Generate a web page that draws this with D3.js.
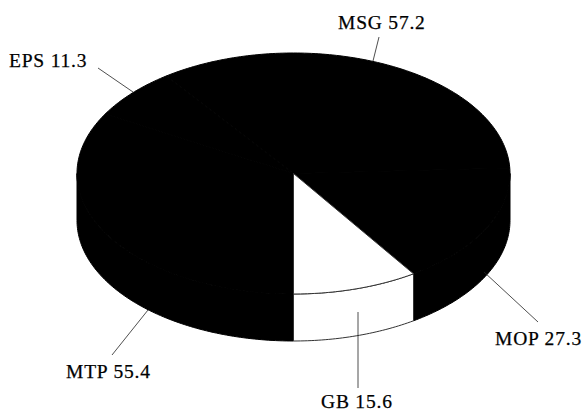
<!DOCTYPE html>
<html>
<head>
<meta charset="utf-8">
<script src="https://cdn.jsdelivr.net/npm/d3@7"></script>
<style>
html,body{margin:0;padding:0;background:#fff}
svg{display:block}
text{font-family:"Liberation Serif",serif;font-size:19.5px;letter-spacing:0.8px;fill:#000;stroke:#000;stroke-width:0.25px}
</style>
</head>
<body>
<svg id="chart" width="583" height="411"></svg>
<script>
// Shares per segment, clockwise from the bottom of the disc
const categories = ["MTP", "EPS", "MSG", "MOP", "GB"];
const shares = [55.4, 11.3, 57.2, 27.3, 15.6];
const sliceFills = ["#000", "#000", "#000", "#000", "#fff"];

// Disc geometry
const cx = 293.5, cy = 173.5, rx = 216.5, ry = 120.5, depth = 47;
const svg = d3.select("#chart");

const xScale = d3.scaleLinear().domain([-1, 1]).range([cx - rx, cx + rx]);
const yScale = d3.scaleLinear().domain([-1, 1]).range([cy - ry, cy + ry]);
const rimX = a => xScale(Math.sin(a));
const rimY = a => yScale(-Math.cos(a));

const pie = d3.pie().sort(null).value(d => d)
  .startAngle(Math.PI).endAngle(3 * Math.PI);
const slices = pie(shares);

const arcSamples = (a0, a1) => {
  const n = Math.max(2, Math.ceil((a1 - a0) * 60));
  return d3.range(n + 1).map(i => a0 + (a1 - a0) * i / n);
};

const line = d3.line().x(d => d[0]).y(d => d[1]);
const strokeOf = i => sliceFills[i] === "#fff" ? "#333" : "#000";
const widthOf = i => 1;
// Dark slices go down first so the white one stays on top
const drawOrder = d3.range(slices.length).sort((p, q) => (sliceFills[p] === "#fff") - (sliceFills[q] === "#fff"));

// Front wall: only the part of each slice facing the viewer
const wallGroup = svg.append("g");
drawOrder.forEach(i => {
  const s = slices[i];
  [[s.startAngle, s.endAngle], [s.startAngle - 2 * Math.PI, s.endAngle - 2 * Math.PI]].forEach(([a0, a1]) => {
    const lo = Math.max(a0, Math.PI / 2), hi = Math.min(a1, 3 * Math.PI / 2);
    if (hi <= lo) return;
    const top = arcSamples(lo, hi).map(a => [rimX(a), rimY(a)]);
    const bottom = top.slice().reverse().map(p => [p[0], p[1] + depth]);
    wallGroup.append("path")
      .attr("d", line(top.concat(bottom)) + "Z")
      .attr("fill", sliceFills[i])
      .attr("stroke", strokeOf(i))
      .attr("stroke-width", widthOf(i))
      .attr("stroke-linejoin", "round");
  });
});

// Top face
const topGroup = svg.append("g");
drawOrder.forEach(i => {
  const s = slices[i];
  const rim = arcSamples(s.startAngle, s.endAngle).map(a => [rimX(a), rimY(a)]);
  topGroup.append("path")
    .attr("d", line([[xScale(0), yScale(0)]].concat(rim)) + "Z")
    .attr("fill", sliceFills[i])
    .attr("stroke", strokeOf(i))
    .attr("stroke-width", widthOf(i))
    .attr("stroke-linejoin", "round");
});

// Labels and their leader lines
const labelSpots = {
  MSG: {x: 338, y: 29, from: [373, 61], to: [379, 37]},
  EPS: {x: 9, y: 67, from: [133, 92], to: [98, 68]},
  MOP: {x: 495, y: 345, from: [484, 272], to: [538, 322]},
  MTP: {x: 66, y: 378, from: [148, 310], to: [112, 355]},
  GB:  {x: 321, y: 408, from: [358, 312], to: [358, 388]}
};

categories.forEach((c, i) => {
  const spot = labelSpots[c];
  svg.append("line")
    .attr("x1", spot.from[0]).attr("y1", spot.from[1])
    .attr("x2", spot.to[0]).attr("y2", spot.to[1])
    .attr("stroke", "#222").attr("stroke-width", 0.8);
  svg.append("text")
    .attr("x", spot.x).attr("y", spot.y)
    .text(`${c} ${d3.format(".1f")(shares[i])}`);
});
</script>
</body>
</html>
